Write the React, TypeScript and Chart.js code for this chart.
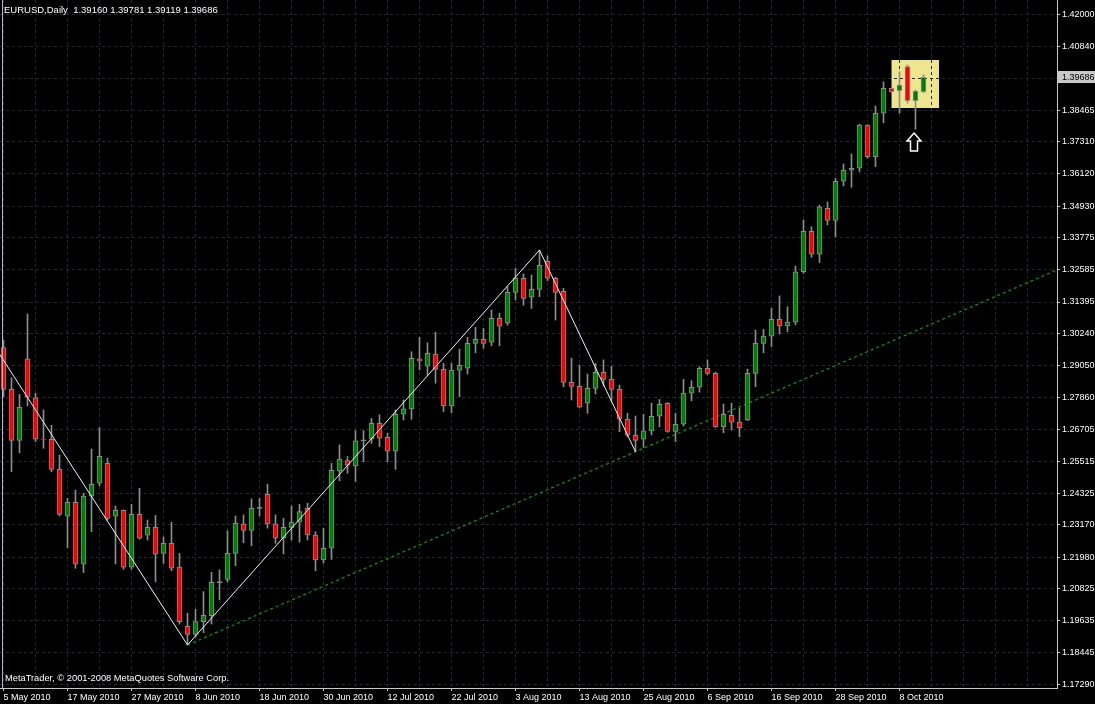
import React, { useEffect, useRef } from "react";
import { Chart, registerables } from "chart.js";

Chart.register(...registerables);

// ---------- data ----------
const symbolTitle = "EURUSD,Daily";
const headerValues = ["1.39160", "1.39781", "1.39119", "1.39686"];
const copyrightText = "MetaTrader, © 2001-2008 MetaQuotes Software Corp.";

// bar index of each date label and the label text
const dateTickIndex = [0, 8, 16, 24, 32, 40, 48, 56, 64, 72, 80, 88, 96, 104, 112];
const dateTickLabels = [
  "5 May 2010", "17 May 2010", "27 May 2010", "8 Jun 2010", "18 Jun 2010",
  "30 Jun 2010", "12 Jul 2010", "22 Jul 2010", "3 Aug 2010", "13 Aug 2010",
  "25 Aug 2010", "6 Sep 2010", "16 Sep 2010", "28 Sep 2010", "8 Oct 2010",
];

// price grid values (label "" = hidden under current price tag)
const priceTickValues = [
  1.42, 1.4084, 1.39653, 1.38465, 1.3731, 1.3612, 1.3493, 1.33775, 1.32585,
  1.31395, 1.3024, 1.2905, 1.2786, 1.26705, 1.25515, 1.24325, 1.2317, 1.2198,
  1.20825, 1.19635, 1.18445, 1.1729,
];
const priceTickLabels = [
  "1.42000", "1.40840", "", "1.38465", "1.37310", "1.36120", "1.34930", "1.33775", "1.32585",
  "1.31395", "1.30240", "1.29050", "1.27860", "1.26705", "1.25515", "1.24325", "1.23170", "1.21980",
  "1.20825", "1.19635", "1.18445", "1.17290",
];
const currentPrice = 1.39686;

const opens = [
  1.2971, 1.2817, 1.2629, 1.2930, 1.2786, 1.2634, 1.2633, 1.2522, 1.2349, 1.2400,
  1.2172, 1.2423, 1.2471, 1.2544, 1.2349, 1.2371, 1.2161, 1.2356, 1.2279, 1.2308,
  1.2212, 1.2249, 1.2161, 1.1943, 1.1913, 1.1960, 1.1982, 1.2106, 1.2116, 1.2212,
  1.2321, 1.2297, 1.2380, 1.2430, 1.2321, 1.2268, 1.2308, 1.2327, 1.2378, 1.2279,
  1.2188, 1.2231, 1.2515, 1.2554, 1.2535, 1.2629, 1.2633, 1.2692, 1.2640, 1.2589,
  1.2726, 1.2745, 1.2930, 1.2903, 1.2947, 1.2891, 1.2756, 1.2888, 1.2895, 1.2987,
  1.3002, 1.2991, 1.3079, 1.3061, 1.3175, 1.3227, 1.3157, 1.3186, 1.3290, 1.3227,
  1.3179, 1.2843, 1.2828, 1.2766, 1.2821, 1.2880, 1.2854, 1.2817, 1.2707, 1.2648,
  1.2633, 1.2664, 1.2718, 1.2766, 1.2662, 1.2689, 1.2803, 1.2825, 1.2895, 1.2876,
  1.2679, 1.2721, 1.2696, 1.2704, 1.2876, 1.2987, 1.3013, 1.3076, 1.3051, 1.3065,
  1.3251, 1.3400, 1.3316, 1.3485, 1.3441, 1.3585, 1.3626, 1.3633, 1.3792, 1.3676,
  1.3836, 1.3928, 1.3919, 1.4008, 1.3882, 1.3916,
];
const highs = [
  1.2999, 1.2860, 1.2799, 1.3095, 1.2803, 1.2741, 1.2685, 1.2575, 1.2415, 1.2445,
  1.2434, 1.2597, 1.2676, 1.2563, 1.2387, 1.2372, 1.2393, 1.2452, 1.2335, 1.2352,
  1.2273, 1.2327, 1.2212, 1.1991, 1.2006, 1.2071, 1.2142, 1.2151, 1.2295, 1.2350,
  1.2354, 1.2413, 1.2415, 1.2467, 1.2354, 1.2341, 1.2387, 1.2393, 1.2397, 1.2292,
  1.2305, 1.2544, 1.2612, 1.2569, 1.2665, 1.2665, 1.2710, 1.2723, 1.2655, 1.2741,
  1.2778, 1.2956, 1.3009, 1.2989, 1.3028, 1.2913, 1.2913, 1.2965, 1.3009, 1.3046,
  1.3042, 1.3110, 1.3098, 1.3196, 1.3264, 1.3243, 1.3239, 1.3331, 1.3310, 1.3231,
  1.3190, 1.2932, 1.2907, 1.2874, 1.2913, 1.2926, 1.2903, 1.2833, 1.2729, 1.2719,
  1.2725, 1.2766, 1.2780, 1.2768, 1.2729, 1.2854, 1.2849, 1.2901, 1.2926, 1.2881,
  1.2763, 1.2766, 1.2747, 1.2892, 1.3036, 1.3039, 1.3116, 1.3162, 1.3122, 1.3272,
  1.3442, 1.3417, 1.3497, 1.3509, 1.3596, 1.3649, 1.3686, 1.3796, 1.3794, 1.3863,
  1.3952, 1.3930, 1.3989, 1.4014, 1.3922, 1.3978,
];
const lows = [
  1.2789, 1.2513, 1.2583, 1.2756, 1.2624, 1.2600, 1.2513, 1.2350, 1.2233, 1.2157,
  1.2141, 1.2292, 1.2461, 1.2335, 1.2173, 1.2153, 1.2153, 1.2264, 1.2261, 1.2107,
  1.2175, 1.2148, 1.1951, 1.1874, 1.1904, 1.1919, 1.1951, 1.2040, 1.2107, 1.2166,
  1.2251, 1.2240, 1.2350, 1.2305, 1.2249, 1.2210, 1.2261, 1.2253, 1.2261, 1.2148,
  1.2176, 1.2190, 1.2480, 1.2507, 1.2477, 1.2550, 1.2618, 1.2606, 1.2550, 1.2522,
  1.2704, 1.2707, 1.2889, 1.2870, 1.2840, 1.2735, 1.2731, 1.2790, 1.2874, 1.2952,
  1.2969, 1.2978, 1.2978, 1.3054, 1.3147, 1.3128, 1.3116, 1.3159, 1.3218, 1.3073,
  1.2827, 1.2778, 1.2750, 1.2729, 1.2800, 1.2830, 1.2775, 1.2661, 1.2642, 1.2587,
  1.2603, 1.2649, 1.2679, 1.2659, 1.2624, 1.2682, 1.2775, 1.2807, 1.2870, 1.2677,
  1.2657, 1.2667, 1.2642, 1.2702, 1.2827, 1.2952, 1.2975, 1.3021, 1.3030, 1.3055,
  1.3245, 1.3304, 1.3285, 1.3424, 1.3380, 1.3568, 1.3563, 1.3620, 1.3670, 1.3639,
  1.3801, 1.3913, 1.3836, 1.3873, 1.3777, 1.39119,
];
const closes = [
  1.2817, 1.2629, 1.2751, 1.2788, 1.2633, 1.2632, 1.2522, 1.2356, 1.2400, 1.2172,
  1.2423, 1.2467, 1.2570, 1.2341, 1.2371, 1.2161, 1.2356, 1.2268, 1.2308, 1.2209,
  1.2249, 1.2157, 1.1960, 1.1913, 1.1960, 1.1983, 1.2105, 1.2106, 1.2212, 1.2323,
  1.2297, 1.2378, 1.2380, 1.2321, 1.2268, 1.2308, 1.2327, 1.2366, 1.2280, 1.2188,
  1.2231, 1.2518, 1.2560, 1.2537, 1.2627, 1.2629, 1.2692, 1.2637, 1.2589, 1.2725,
  1.2745, 1.2932, 1.2921, 1.2950, 1.2891, 1.2756, 1.2888, 1.2906, 1.2987, 1.3002,
  1.2987, 1.3079, 1.3050, 1.3175, 1.3227, 1.3153, 1.3186, 1.3275, 1.3227, 1.3175,
  1.2843, 1.2828, 1.2751, 1.2821, 1.2880, 1.2854, 1.2817, 1.2707, 1.2648, 1.2629,
  1.2664, 1.2718, 1.2762, 1.2662, 1.2688, 1.2803, 1.2825, 1.2895, 1.2876, 1.2679,
  1.2725, 1.2696, 1.2676, 1.2876, 1.2987, 1.3014, 1.3076, 1.3051, 1.3065, 1.3251,
  1.3400, 1.3316, 1.3491, 1.3441, 1.3585, 1.3626, 1.3633, 1.3792, 1.3676, 1.3836,
  1.3928, 1.3916, 1.3940, 1.3882, 1.3918, 1.39686,
];

// zigzag vertices: [bar index, price]
const zigzagIndex = [-1, 23, 67, 79];
const zigzagPrice = [1.2970, 1.1874, 1.3331, 1.2587];
// trend line anchors (extended to the right edge)
const trendIndex = [23, 79];
const trendPrice = [1.1874, 1.2587];
// highlighted zone
const zoneIndex = [110.94, 116.94];
const zonePrice = [1.3857, 1.4033];
// arrow marker
const arrowIndex = 114;
const arrowPrice = 1.3763;

// ---------- styles ----------
const BG = "#000000";
const GRID = "#22262e";
const AXIS = "#c8c8c8";
const TEXT = "#ffffff";
const BULL = "#008000";
const BEAR = "#ff0000";
const WICK = "#8c8c8c";
const FONT = '"Liberation Sans", Arial, sans-serif';

const X_MIN = -0.4375;
const X_MAX = 131.6875;
const Y_MIN = 1.171518;
const Y_MAX = 1.42539;

export default function App() {
  const ref = useRef<HTMLCanvasElement | null>(null);

  useEffect(() => {
    document.body.style.margin = "0";
    document.body.style.background = BG;
    const canvas = ref.current;
    if (!canvas) return;

    const isDoji = (i: number) => Math.abs(opens[i] - closes[i]) < 0.00015;
    const wickData = opens.map((_, i) => ({ x: i, y: [lows[i], highs[i]] }));
    const bodyData = opens.map((o, i) => {
      const c = closes[i];
      if (isDoji(i)) {
        const m = (o + c) / 2;
        return { x: i, y: [m - 0.00019, m + 0.00019] };
      }
      return { x: i, y: [Math.min(o, c), Math.max(o, c)] };
    });
    const bodyColors = opens.map((o, i) => (isDoji(i) ? WICK : closes[i] > o ? BULL : BEAR));

    const zigzag = zigzagIndex.map((x, i) => ({ x, y: zigzagPrice[i] }));
    const slope = (trendPrice[1] - trendPrice[0]) / (trendIndex[1] - trendIndex[0]);
    const trend = [
      { x: trendIndex[0], y: trendPrice[0] },
      { x: X_MAX + 1, y: trendPrice[0] + slope * (X_MAX + 1 - trendIndex[0]) },
    ];

    const xTickValues: number[] = [0];
    for (let v = 4; v <= 128; v += 4) xTickValues.push(v);

    const decor = {
      id: "decor",
      beforeDraw(chart: any) {
        const { ctx, scales } = chart;
        const xs = scales.x, ys = scales.y;
        ctx.save();
        ctx.fillStyle = BG;
        ctx.fillRect(0, 0, chart.width, chart.height);
        // highlight zone (below grid)
        const x0 = Math.round(xs.getPixelForValue(zoneIndex[0]));
        const x1 = Math.round(xs.getPixelForValue(zoneIndex[1]));
        const y0 = Math.round(ys.getPixelForValue(zonePrice[1]));
        const y1 = Math.round(ys.getPixelForValue(zonePrice[0]));
        ctx.fillStyle = "#eee68e";
        ctx.fillRect(x0, y0, x1 - x0, y1 - y0);
        ctx.fillStyle = "#6e6a40";
        ctx.fillRect(x0, y0, 1, y1 - y0);
        ctx.restore();
      },
      afterDraw(chart: any) {
        const { ctx, scales, chartArea } = chart;
        const xs = scales.x, ys = scales.y;
        ctx.save();
        // left edge line
        ctx.strokeStyle = "#a8b8d8";
        ctx.lineWidth = 1;
        ctx.beginPath();
        ctx.moveTo(2.5, chartArea.top);
        ctx.lineTo(2.5, chartArea.bottom);
        ctx.stroke();

        // header
        ctx.fillStyle = TEXT;
        ctx.font = `9.5px ${FONT}`;
        ctx.textBaseline = "alphabetic";
        ctx.textAlign = "left";
        ctx.fillText(`${symbolTitle}  ${headerValues.join(" ")}`, 4, 13);
        // copyright
        ctx.font = `9.3px ${FONT}`;
        ctx.fillText(copyrightText, 5, 681);

        // current price tag
        ctx.font = `9px ${FONT}`;
        const py = Math.round(ys.getPixelForValue(currentPrice));
        ctx.fillStyle = "#c8c8c8";
        ctx.fillRect(chartArea.right + 1, py - 6, 37, 12);
        ctx.fillStyle = "#000000";
        ctx.textBaseline = "middle";
        ctx.fillText(currentPrice.toFixed(5), chartArea.right + 5, py + 0.5);

        // arrow marker
        const ax = xs.getPixelForValue(arrowIndex) - 1.5;
        const ay = ys.getPixelForValue(arrowPrice);
        ctx.beginPath();
        ctx.moveTo(ax, ay);
        ctx.lineTo(ax + 7, ay + 8);
        ctx.lineTo(ax + 3.5, ay + 8);
        ctx.lineTo(ax + 3.5, ay + 18);
        ctx.lineTo(ax - 3.5, ay + 18);
        ctx.lineTo(ax - 3.5, ay + 8);
        ctx.lineTo(ax - 7, ay + 8);
        ctx.closePath();
        ctx.fillStyle = BG;
        ctx.fill();
        ctx.strokeStyle = "#ffffff";
        ctx.lineWidth = 1.5;
        ctx.stroke();
        ctx.restore();
      },
    };

    const chart = new Chart(canvas, {
      type: "bar",
      data: {
        datasets: [
          {
            type: "line",
            data: trend,
            borderColor: "#00a000",
            borderWidth: 1.2,
            borderDash: [3, 3],
            pointRadius: 0,
            order: 4,
          } as any,
          {
            type: "bar",
            data: wickData,
            backgroundColor: WICK,
            borderWidth: 0,
            barThickness: 1,
            grouped: false,
            order: 3,
          } as any,
          {
            type: "bar",
            data: bodyData,
            backgroundColor: bodyColors,
            borderColor: WICK,
            borderWidth: 1,
            borderSkipped: false,
            barThickness: 5,
            grouped: false,
            order: 2,
          } as any,
          {
            type: "line",
            data: zigzag,
            borderColor: "#eef2f8",
            borderWidth: 1,
            pointRadius: 0,
            order: 1,
          } as any,
        ],
      },
      options: {
        responsive: false,
        animation: false,
        events: [],
        layout: { padding: 0 },
        plugins: { legend: { display: false }, tooltip: { enabled: false } },
        scales: {
          x: {
            type: "linear",
            min: X_MIN,
            max: X_MAX,
            offset: false,
            bounds: "data",
            grid: {
              color: GRID,
              offset: false,
              drawTicks: true,
              tickLength: 3,
              tickColor: (c: any) => (dateTickIndex.includes(c.tick?.value) ? AXIS : "rgba(0,0,0,0)"),
            },
            border: { display: true, color: AXIS, dash: [3, 3] },
            ticks: {
              color: TEXT,
              font: { family: FONT, size: 9 },
              align: "start",
              maxRotation: 0,
              autoSkip: false,
              padding: 1,
              callback: (v: any) => {
                const k = dateTickIndex.indexOf(v);
                return k >= 0 ? dateTickLabels[k] : "";
              },
            },
            afterBuildTicks: (s: any) => {
              s.ticks = xTickValues.map((v) => ({ value: v }));
            },
            afterFit: (s: any) => {
              s.height = 16;
              s.paddingLeft = 0;
              s.paddingRight = 0;
            },
          },
          y: {
            type: "linear",
            position: "right",
            min: Y_MIN,
            max: Y_MAX,
            bounds: "data",
            grid: {
              color: GRID,
              drawTicks: true,
              tickLength: 3,
              tickColor: AXIS,
            },
            border: { display: true, color: AXIS, dash: [3, 3] },
            ticks: {
              color: TEXT,
              font: { family: FONT, size: 9 },
              padding: 2,
              callback: (v: any, idx: number) => priceTickLabels[idx] ?? "",
            },
            afterBuildTicks: (s: any) => {
              s.ticks = priceTickValues.map((v) => ({ value: v }));
            },
            afterFit: (s: any) => {
              s.width = 38;
              s.paddingTop = 0;
              s.paddingBottom = 0;
            },
          },
        },
      } as any,
      plugins: [decor],
    });

    return () => chart.destroy();
  }, []);

  return (
    <div style={{ position: "fixed", left: 0, top: 0, width: 1095, height: 704, background: BG }}>
      <canvas ref={ref} width={1095} height={704} style={{ display: "block", width: 1095, height: 704 }} />
    </div>
  );
}
